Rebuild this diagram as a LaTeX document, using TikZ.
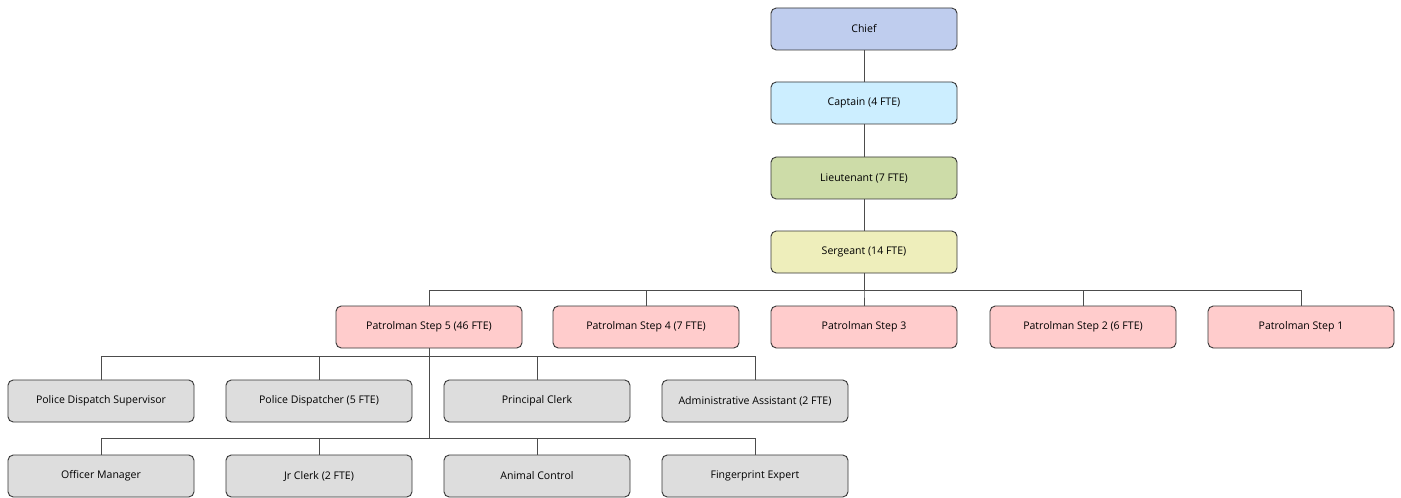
\documentclass[tikz,border=0pt]{standalone}
\usepackage{fontspec}
\setmainfont{Open Sans}
\usepackage{tikz}
\usetikzlibrary{positioning,calc}
\definecolor{chiefblue}{HTML}{BFCDEE}
\definecolor{captblue}{HTML}{CCEEFF}
\definecolor{ltgreen}{HTML}{CDDCA8}
\definecolor{sgyellow}{HTML}{EEEEBB}
\definecolor{patpink}{HTML}{FFCCCC}
\definecolor{staffgray}{HTML}{DDDDDD}
\definecolor{edgegray}{HTML}{333333}

\begin{document}
\begin{tikzpicture}[
    rankbox/.style={rectangle, rounded corners=3pt, draw=edgegray, line width=0.5pt,
                    minimum width=3.72cm, minimum height=0.84cm, align=center,
                    font=\fontsize{6}{7}\selectfont},
    patbox/.style={rankbox, fill=patpink},
    staffbox/.style={rankbox, fill=staffgray},
    link/.style={draw=black!70, line width=0.5pt}
  ]
    \useasboundingbox (0,0) rectangle (28.02,-9.96);

    % Chain of command
    \node[rankbox, fill=chiefblue] (chief) at (17.28,-0.58) {Chief};
    \node[rankbox, fill=captblue]  (capt)  at (17.28,-2.06) {Captain (4 FTE)};
    \node[rankbox, fill=ltgreen]   (lieut) at (17.28,-3.56) {Lieutenant (7 FTE)};
    \node[rankbox, fill=sgyellow]  (serg)  at (17.28,-5.04) {Sergeant (14 FTE)};
    \draw[link] (chief.south) -- (capt.north);
    \draw[link] (capt.south)  -- (lieut.north);
    \draw[link] (lieut.south) -- (serg.north);

    % Patrolmen
    \node[patbox] (pat5) at ( 8.58,-6.54) {Patrolman Step 5 (46 FTE)};
    \node[patbox] (pat4) at (12.92,-6.54) {Patrolman Step 4 (7 FTE)};
    \node[patbox] (pat3) at (17.28,-6.54) {Patrolman Step 3};
    \node[patbox] (pat2) at (21.66,-6.54) {Patrolman Step 2 (6 FTE)};
    \node[patbox] (pat1) at (26.02,-6.54) {Patrolman Step 1};
    \coordinate (sgbus) at (17.28,-5.80);
    \foreach \p in {pat5,pat4,pat3,pat2,pat1}
      \draw[link] (serg.south) -- (sgbus) -| (\p.north);

    % Civilian staff under Step 5
    \node[staffbox] (dispsup) at ( 2.02,-8.02) {Police Dispatch Supervisor};
    \node[staffbox] (disp)    at ( 6.38,-8.02) {Police Dispatcher (5 FTE)};
    \node[staffbox] (pclerk)  at (10.74,-8.02) {Principal Clerk};
    \node[staffbox] (admin)   at (15.10,-8.02) {Administrative Assistant (2 FTE)};
    \node[staffbox] (offmgr)  at ( 2.02,-9.52) {Officer Manager};
    \node[staffbox] (jrclerk) at ( 6.38,-9.52) {Jr Clerk (2 FTE)};
    \node[staffbox] (animal)  at (10.74,-9.52) {Animal Control};
    \node[staffbox] (fprint)  at (15.10,-9.52) {Fingerprint Expert};
    \coordinate (upbus)  at (8.58,-7.12);
    \coordinate (lowbus) at (8.58,-8.76);
    \foreach \s in {dispsup,disp,pclerk,admin}
      \draw[link] (pat5.south) -- (upbus) -| (\s.north);
    \foreach \s in {offmgr,jrclerk,animal,fprint}
      \draw[link] (pat5.south) -- (lowbus) -| (\s.north);
  \end{tikzpicture}
\end{document}
